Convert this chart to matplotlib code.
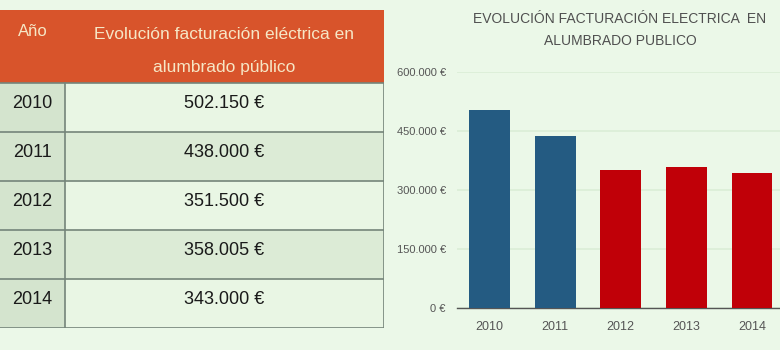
import numpy as np
import matplotlib
matplotlib.use('Agg')
import matplotlib.pyplot as plt
from matplotlib.patches import Rectangle
from matplotlib.ticker import FuncFormatter

plt.rcParams['font.family'] = ['Liberation Sans', 'DejaVu Sans']

years = ['2010', '2011', '2012', '2013', '2014']
values = [502150, 438000, 351500, 358005, 343000]
value_labels = ['502.150 €', '438.000 €', '351.500 €', '358.005 €', '343.000 €']
bar_colors = ['#245b82', '#245b82', '#c00008', '#c00008', '#c00008']
header = ['Año', 'Evolución facturación eléctrica en\nalumbrado público']
chart_title = 'EVOLUCIÓN FACTURACIÓN ELECTRICA  EN\nALUMBRADO PUBLICO'
yticks = [0, 150000, 300000, 450000, 600000]

BG = '#ebf8e8'
fig = plt.figure(figsize=(7.8, 3.5), dpi=100, facecolor=BG)

# ---- table (left) ----
ax_t = fig.add_axes([0, 22 / 350, 384 / 780, 318 / 350])
ax_t.set_xlim(0, 384)
ax_t.set_ylim(318, 0)
ax_t.axis('off')
head_h = 73
row_h = 49
col_w = 65
ax_t.add_patch(Rectangle((0, 0), 384, head_h, facecolor='#d8542b', edgecolor='none'))
ax_t.text(col_w / 2, 22, header[0], ha='center', va='center', fontsize=12, color='#f6e7c6')
ax_t.text(col_w + (384 - col_w) / 2, 41, header[1], ha='center', va='center', fontsize=12.5,
          color='#f6e7c6', linespacing=2.55)
for i, (yr, lab) in enumerate(zip(years, value_labels)):
    y0 = head_h + i * row_h
    row_col = '#dcebd6' if i % 2 else '#e9f6e4'
    ax_t.add_patch(Rectangle((0, y0), col_w, row_h, facecolor='#d4e4ce', edgecolor='none'))
    ax_t.add_patch(Rectangle((col_w, y0), 384 - col_w, row_h, facecolor=row_col, edgecolor='none'))
    ax_t.text(col_w / 2, y0 + row_h / 2 - 4, yr, ha='center', va='center', fontsize=13, color='#1a1a1a')
    ax_t.text(col_w + (384 - col_w) / 2, y0 + row_h / 2 - 4, lab, ha='center', va='center',
              fontsize=13, color='#1a1a1a')
    ax_t.plot([0, 384], [y0, y0], color='#75857a', lw=1.2)
ax_t.plot([0, 384], [318, 318], color='#75857a', lw=1.2)
ax_t.plot([col_w, col_w], [head_h, 318], color='#75857a', lw=1.2)
ax_t.plot([384, 384], [head_h, 318], color='#75857a', lw=1.2)

# ---- bar chart (right) ----
ax = fig.add_axes([457 / 780, 42 / 350, 323 / 780, 236 / 350], facecolor=BG)
x = np.arange(len(years))
ax.bar(x, values, width=0.62, color=bar_colors, zorder=3)
ax.set_xlim(-0.5, 4.43)
ax.set_ylim(0, 600000)
ax.set_yticks(yticks)
ax.yaxis.set_major_formatter(FuncFormatter(lambda v, p: '{:,.0f} €'.format(v).replace(',', '.')))
ax.set_xticks(x)
ax.set_xticklabels(years)
ax.grid(axis='y', color='#dbeed7', lw=1.2, zorder=0)
for s in ['top', 'right', 'left']:
    ax.spines[s].set_visible(False)
ax.spines['bottom'].set_color('#555555')
ax.spines['bottom'].set_linewidth(1.0)
ax.tick_params(axis='both', length=0, colors='#555555')
ax.tick_params(axis='y', pad=8, labelsize=8)
ax.tick_params(axis='x', pad=9, labelsize=9)

fig.text(620 / 780, 1 - 30 / 350, chart_title, ha='center', va='center', fontsize=10,
         color='#505050', linespacing=1.65)

fig.savefig('out.png', dpi=100, facecolor=BG)
